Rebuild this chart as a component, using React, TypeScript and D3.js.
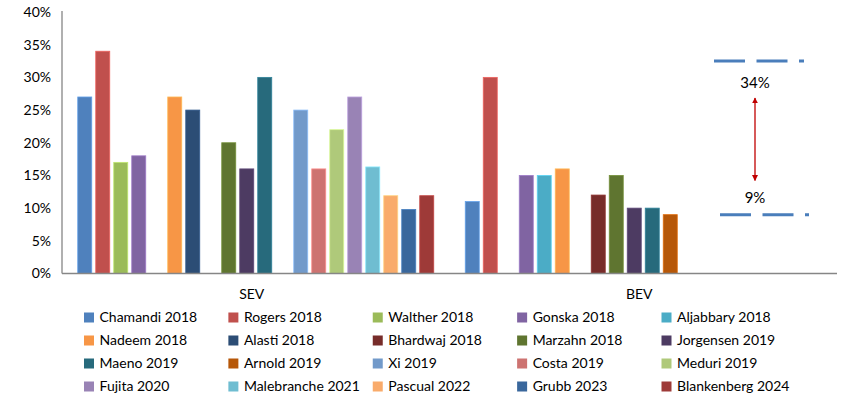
import React from "react";
import * as d3 from "d3";

const categories = ["SEV", "BEV"];
const seriesNames = [
  "Chamandi 2018", "Rogers 2018", "Walther 2018", "Gonska 2018", "Aljabbary 2018",
  "Nadeem 2018", "Alasti 2018", "Bhardwaj 2018", "Marzahn 2018", "Jorgensen 2019",
  "Maeno 2019", "Arnold 2019", "Xi 2019", "Costa 2019", "Meduri 2019",
  "Fujita 2020", "Malebranche 2021", "Pascual 2022", "Grubb 2023", "Blankenberg 2024",
];
const seriesColors = [
  "#4F81BD", "#C0504D", "#9BBB59", "#8064A2", "#4BACC6",
  "#F79646", "#2C4D75", "#772C2A", "#5F7530", "#4D3B62",
  "#276A7C", "#B65708", "#729ACA", "#CD7371", "#AFC97A",
  "#9983B5", "#6FBDD1", "#F9AB6B", "#3A679C", "#9E3A38",
];
// values per series: [SEV, BEV] (null = no bar)
const sevValues: (number | null)[] = [27, 34, 17, 18, null, 27, 25, null, 20, 16, 30, null, 25, 16, 22, 27, 16.3, 11.9, 9.8, 11.9];
const bevValues: (number | null)[] = [11, 30, null, 15, 15, 16, null, 12, 15, 10, 10, 9, null, null, null, null, null, null, null, null];
const yTicks = [0, 5, 10, 15, 20, 25, 30, 35, 40];
const annotationLevels = [32.5, 9];
const annotationLabels = ["34%", "9%"];

const W = 866;
const H = 410;
const FONT = "Lato, 'Open Sans', sans-serif";

export default function App() {
  const plotLeft = 62;
  const plotRight = 837;
  const y = d3.scaleLinear().domain([0, 40]).range([273.5, 12]);
  const x0 = d3.scaleBand<string>().domain(categories).range([plotLeft, plotRight]).padding(0);
  const x1 = d3
    .scaleBand<string>()
    .domain(seriesNames)
    .range([0, x0.bandwidth()])
    .paddingInner(0.222)
    .paddingOuter(0.875);

  const valuesByCat = [sevValues, bevValues];
  const legendCols = 5;
  const legendX = d3.scaleLinear().domain([0, 4]).range([84, 661.5]);
  const legendY = d3.scaleLinear().domain([0, 3]).range([317.5, 386.5]);

  const annX = 755;
  const axisColor = "#868686";

  return (
    <svg width={W} height={H} style={{ position: "absolute", left: 0, top: 0, background: "#fff" }} fontFamily={FONT}>
      <defs>
        <marker id="arr" viewBox="0 0 10 10" refX="9" refY="5" markerWidth="6" markerHeight="6" orient="auto-start-reverse" markerUnits="userSpaceOnUse">
          <path d="M0,0 L10,5 L0,10 z" fill="#C00000" />
        </marker>
      </defs>
      {/* y tick labels */}
      {yTicks.map((t) => (
        <text key={t} x={51} y={y(t)} dy="0.35em" textAnchor="end" fontSize={14} fill="#000">
          {t}%
        </text>
      ))}
      {/* bars */}
      {categories.map((c, ci) => (
        <g key={c} transform={`translate(${x0(c)},0)`}>
          {seriesNames.map((s, si) => {
            const v = valuesByCat[ci][si];
            if (v == null) return null;
            return (
              <rect
                key={s}
                x={x1(s)}
                y={y(v)}
                width={x1.bandwidth()}
                height={y(0) - y(v)}
                fill={seriesColors[si]}
                stroke={d3.color(seriesColors[si])!.brighter(0.6).formatHex()}
                strokeWidth={0.8}
              />
            );
          })}
        </g>
      ))}
      {/* axes */}
      <line x1={plotLeft} x2={plotLeft} y1={y(40) - 1} y2={y(0)} stroke={axisColor} strokeWidth={1.3} />
      <line x1={plotLeft} x2={plotRight} y1={y(0)} y2={y(0)} stroke={axisColor} strokeWidth={1.5} />
      {/* category labels */}
      {categories.map((c) => (
        <text key={c} x={x0(c)! + x0.bandwidth() / 2 - 4} y={299} textAnchor="middle" fontSize={14} fill="#000">
          {c}
        </text>
      ))}
      {/* annotation */}
      <line x1={714} x2={804} y1={y(annotationLevels[0])} y2={y(annotationLevels[0])} stroke="#4A7EBB" strokeWidth={3} strokeDasharray="31 11.5" />
      <line x1={720} x2={809} y1={y(annotationLevels[1])} y2={y(annotationLevels[1])} stroke="#4A7EBB" strokeWidth={3} strokeDasharray="31 11.5" />
      <text x={annX} y={88} textAnchor="middle" fontSize={15} fill="#000">{annotationLabels[0]}</text>
      <text x={annX} y={202.5} textAnchor="middle" fontSize={15} fill="#000">{annotationLabels[1]}</text>
      <line x1={annX} x2={annX} y1={98} y2={180.5} stroke="#C00000" strokeWidth={1.3} markerStart="url(#arr)" markerEnd="url(#arr)" />
      {/* legend */}
      {seriesNames.map((s, i) => {
        const col = i % legendCols;
        const row = Math.floor(i / legendCols);
        const lx = legendX(col);
        const ly = legendY(row);
        return (
          <g key={s}>
            <rect x={lx} y={ly - 5} width={10} height={10} fill={seriesColors[i]} />
            <text x={lx + 15.5} y={ly} dy="0.35em" fontSize={14} fill="#000">{s}</text>
          </g>
        );
      })}
    </svg>
  );
}
